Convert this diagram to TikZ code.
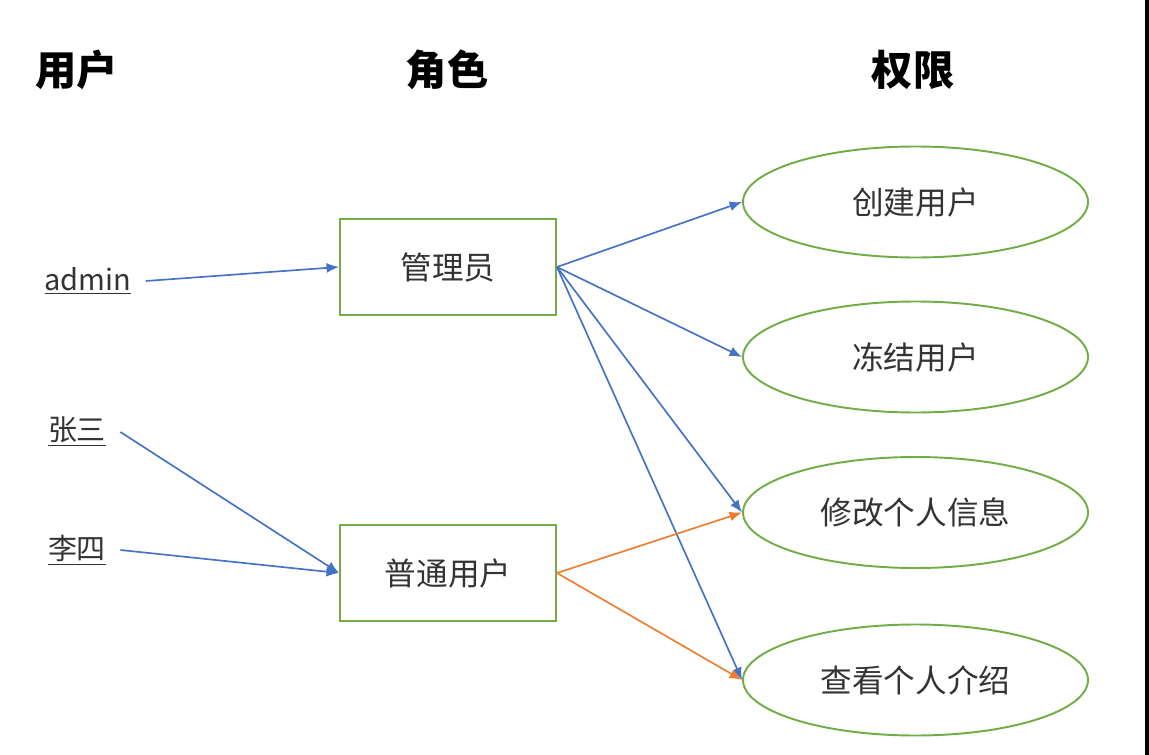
\documentclass[tikz,border=0pt]{standalone}
\usepackage{fontspec}
\newfontfamily\cjk{Noto Sans CJK SC}
\usetikzlibrary{shapes.geometric,arrows.meta}

\definecolor{boxgreen}{RGB}{112,173,71}
\definecolor{linkblue}{RGB}{68,114,196}
\definecolor{linkorange}{RGB}{237,125,49}
\definecolor{labelgrey}{RGB}{51,51,51}

\tikzset{
  coltitle/.style={font=\cjk\fontsize{23.5}{28}\selectfont\bfseries, text=black},
  username/.style={font=\cjk\fontsize{16.5}{20}\selectfont, text=labelgrey, inner xsep=8pt},
  rolebox/.style={draw=boxgreen, line width=1.1pt, minimum width=4.32cm, minimum height=1.92cm,
    font=\cjk\fontsize{18}{21}\selectfont, text=labelgrey},
  permellipse/.style={ellipse, draw=boxgreen, line width=1.1pt, minimum width=6.9cm, minimum height=2.22cm,
    font=\cjk\fontsize{18}{21}\selectfont, text=labelgrey},
  bluelink/.style={draw=linkblue, line width=0.95pt, -{Latex[length=2.5mm,width=2mm]}},
  orangelink/.style={draw=linkorange, line width=0.95pt, -{Latex[length=2.5mm,width=2mm]}}
}

\begin{document}
\begin{tikzpicture}

    % Fix the page size
    \useasboundingbox (0,0) rectangle (22.98,-15.1);

    % Dark strip on the right edge
    \fill[black] (22.9,0) rectangle (22.98,-15.1);

    % Column titles
    \node[coltitle] (tuser) at (1.54,-1.4) {用户};
    \node[coltitle] (trole) at (8.94,-1.4) {角色};
    \node[coltitle] (tperm) at (18.26,-1.4) {权限};

    % Users
    \node[username] (admin) at (1.76,-5.62) {\underline{admin}};
    \node[username] (zhang) at (1.54,-8.64) {\underline{张三}};
    \node[username] (li) at (1.54,-11.0) {\underline{李四}};

    % Roles
    \node[rolebox] (manager) at (8.96,-5.34) {管理员};
    \node[rolebox] (normal) at (8.96,-11.46) {普通用户};

    % Permissions
    \node[permellipse] (create) at (18.31,-4.04) {创建用户};
    \node[permellipse] (freeze) at (18.31,-7.14) {冻结用户};
    \node[permellipse] (edit) at (18.31,-10.25) {修改个人信息};
    \node[permellipse] (view) at (18.31,-13.6) {查看个人介绍};

    % Users to roles
    \draw[bluelink] (admin.east) -- (manager.west);
    \draw[bluelink] (zhang.east) -- (normal.west);
    \draw[bluelink] (li.east) -- (normal.west);

    % Roles to permissions
    \draw[bluelink] (manager.east) -- (create.west);
    \draw[bluelink] (manager.east) -- (freeze.west);
    \draw[bluelink] (manager.east) -- (edit.west);
    \draw[bluelink] (manager.east) -- (view.west);
    \draw[orangelink] (normal.east) -- (edit.west);
    \draw[orangelink] (normal.east) -- (view.west);

\end{tikzpicture}
\end{document}
